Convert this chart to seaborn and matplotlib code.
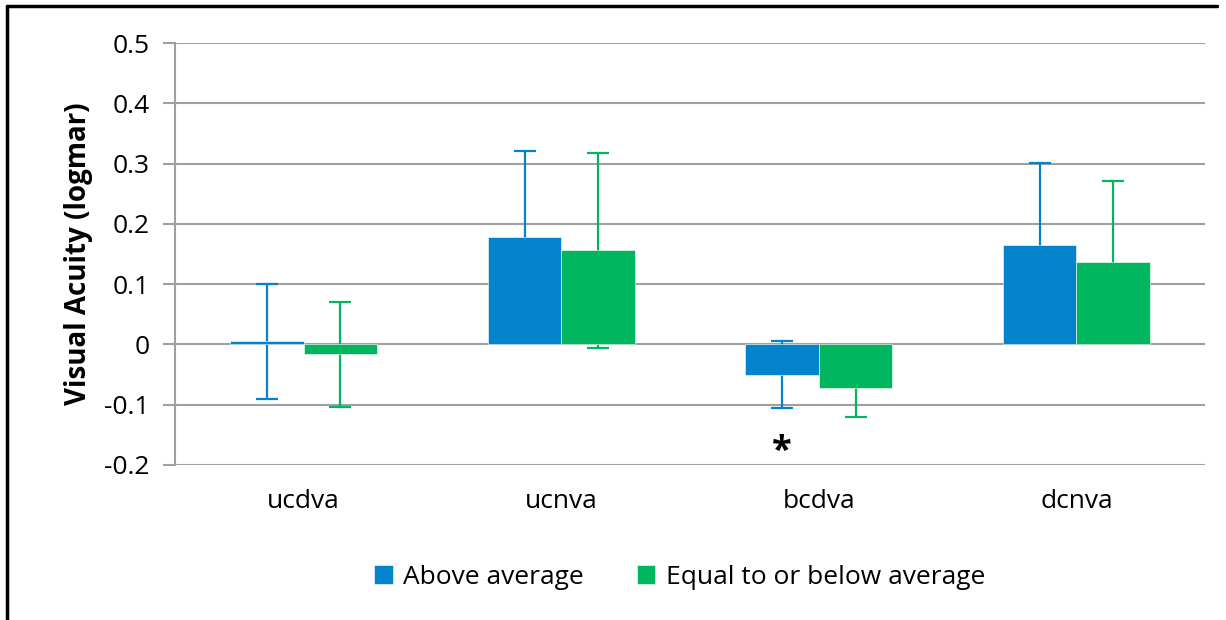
import pandas as pd
import numpy as np
import matplotlib.pyplot as plt
import seaborn as sns
from matplotlib.lines import Line2D

# values
categories = ["ucdva", "ucnva", "bcdva", "dcnva"]
groups = ["Above average", "Equal to or below average"]
above_mean = [0.005, 0.178, -0.050, 0.165]
above_err = [0.096, 0.143, 0.056, 0.136]
below_mean = [-0.016, 0.156, -0.072, 0.137]
below_err = [0.087, 0.162, 0.048, 0.134]

colors = ["#0283CC", "#00B760"]

data = pd.DataFrame({
    "measure": categories * 2,
    "group": [groups[0]] * 4 + [groups[1]] * 4,
    "va": above_mean + below_mean,
    "err": above_err + below_err,
})

sns.set_style("white")
plt.rcParams['font.family'] = ['Open Sans', 'DejaVu Sans']
plt.rcParams['text.color'] = 'black'
plt.rcParams['xtick.color'] = 'black'
plt.rcParams['ytick.color'] = 'black'
plt.rcParams['axes.labelcolor'] = 'black'

fig = plt.figure(figsize=(12.26, 6.2), dpi=100)
ax = fig.add_axes([0.1427, 0.25, 0.8403, 0.6806])

sns.barplot(data=data, x="measure", y="va", hue="group", palette=colors,
            errorbar=None, width=0.57, saturation=1, ax=ax, zorder=3,
            edgecolor="white", linewidth=0.4)

# error bars behind the bars, like the original
for cont, grp, col in zip(ax.containers, groups, colors):
    sub = data[data["group"] == grp]
    xs = [p.get_x() + p.get_width() / 2 for p in cont.patches]
    ax.errorbar(xs, sub["va"], yerr=sub["err"], fmt="none", ecolor=col,
                elinewidth=1.6, capsize=8, capthick=1.6, zorder=2)

# significance mark under bcdva (above average bar)
bx = ax.containers[0].patches[2]
ax.text(bx.get_x() + bx.get_width() / 2, -0.178, "*", ha="center", va="center",
        fontsize=26, fontweight="bold")

ax.set_xlim(-0.5, 3.5)
ax.set_ylim(-0.2, 0.5)
ax.set_yticks(np.arange(-0.2, 0.51, 0.1))
ax.set_yticklabels(["-0.2", "-0.1", "0", "0.1", "0.2", "0.3", "0.4", "0.5"])
ax.yaxis.grid(True, color="#A0A0A0", linewidth=1.5, zorder=0)
ax.set_axisbelow(True)
for s in ["top", "right", "bottom"]:
    ax.spines[s].set_visible(False)
ax.spines["left"].set_color("#A0A0A0")
ax.spines["left"].set_linewidth(1.5)
ax.tick_params(axis="y", left=True, length=9, color="#A0A0A0", width=1.5,
               labelsize=19, pad=9, labelcolor="black")
ax.tick_params(axis="x", bottom=False, labelsize=19, pad=14, labelcolor="black")
ax.set_xlabel("")
ax.set_ylabel("Visual Acuity (logmar)", fontsize=20, fontweight="bold", labelpad=8)

ax.legend(loc="upper center", bbox_to_anchor=(0.49, -0.18), ncol=2, frameon=False,
          fontsize=19, handlelength=0.7, handleheight=0.7, handletextpad=0.4,
          columnspacing=2.0)

# outer frame
fig.add_artist(Line2D([0.006, 0.993], [0.99, 0.99], color="black", linewidth=2.5))
fig.add_artist(Line2D([0.006, 0.006], [0.0, 0.99], color="black", linewidth=2.5))

fig.savefig("out.png", dpi=100)
